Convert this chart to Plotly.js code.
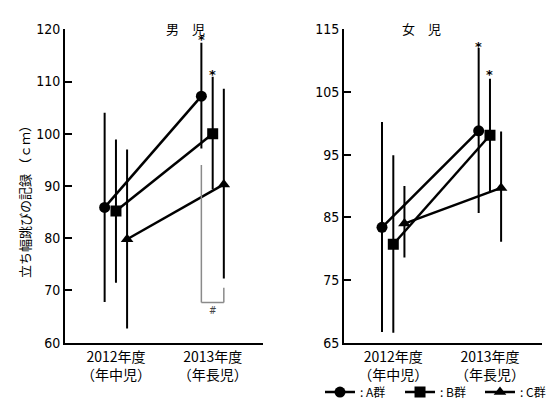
<!DOCTYPE html>
<html>
<head>
<meta charset="utf-8">
<script src="https://cdn.plot.ly/plotly-3.0.1.min.js"></script>
<style>html,body{margin:0;padding:0;background:#fff}#chart{width:547px;height:399px}</style>
</head>
<body>
<div id="chart"></div>
<script>
// categories (x positions 0 = 2012, 1 = 2013)
const categoryX = [0, 1];
const categoryYears = ["2012年度", "2013年度"];
const categoryGrades = ["（年中児）", "（年長児）"];
const groups = [": A群", ": B群", ": C群"];
const groupOffsets = [-0.117, 0, 0.115];

// 男児 (boys) means and error extents
const boysA = [85.9, 107.2];
const boysB = [85.2, 100.0];
const boysC = [79.8, 90.3];
const boysAUp = [18.1, 10.2], boysALow = [18.1, 10.0];
const boysBUp = [13.7, 10.9], boysBLow = [13.7, 10.6];
const boysCUp = [17.2, 18.3], boysCLow = [17.1, 18.0];

// 女児 (girls) means and error extents
const girlsA = [83.4, 98.8];
const girlsB = [80.7, 98.1];
const girlsC = [84.0, 89.7];
const girlsAUp = [16.8, 13.2], girlsALow = [16.7, 13.1];
const girlsBUp = [14.2, 9.0], girlsBLow = [14.1, 8.9];
const girlsCUp = [6.0, 9.0], girlsCLow = [5.4, 8.6];

// significance marks
const boysStars = [118.6, 112.0];   // above A, B at 2013
const girlsStars = [112.8, 108.3];
const boysBracket = {top: 94.0, bottom: 67.7, rightTop: 70.5, label: 66.2};

const symbols = ["circle", "square", "triangle-up"];
const legendIds = ["legend", "legend2", "legend3"];
const fontNum = "Liberation Sans Narrow, DejaVu Sans Condensed, Noto Sans CJK JP, sans-serif";
const fontJP = "Liberation Sans Narrow, Noto Sans CJK JP, sans-serif";
const fontStar = "DejaVu Sans, sans-serif";

function mk(vals, up, low, g, xa, ya, showleg) {
  return {
    x: categoryX.map(v => v + groupOffsets[g]),
    y: vals,
    xaxis: xa, yaxis: ya,
    type: "scatter", mode: "lines+markers",
    name: groups[g], showlegend: showleg, legend: legendIds[g],
    line: {color: "#000", width: 2.5},
    marker: {symbol: symbols[g], size: 11, color: "#000"},
    error_y: {type: "data", symmetric: false, array: up, arrayminus: low, width: 0, thickness: 2, color: "#000"}
  };
}

const data = [
  mk(boysA, boysAUp, boysALow, 0, "x", "y", true),
  mk(boysB, boysBUp, boysBLow, 1, "x", "y", true),
  mk(boysC, boysCUp, boysCLow, 2, "x", "y", true),
  mk(girlsA, girlsAUp, girlsALow, 0, "x2", "y2", false),
  mk(girlsB, girlsBUp, girlsBLow, 1, "x2", "y2", false),
  mk(girlsC, girlsCUp, girlsCLow, 2, "x2", "y2", false)
];

const xCommon = {
  tickvals: categoryX, ticktext: categoryYears.map((t, i) => t + "<br>" + categoryGrades[i]),
  showline: true, linewidth: 2, linecolor: "#000",
  ticks: "", showgrid: false, zeroline: false, fixedrange: true,
  tickfont: {family: fontJP, size: 14, color: "#000"},
  automargin: false
};
const yCommon = {
  showline: true, linewidth: 2, linecolor: "#000",
  ticks: "inside", ticklen: 7, tickwidth: 2, tickcolor: "#000",
  showgrid: false, zeroline: false, fixedrange: true,
  tickfont: {family: fontNum, size: 14, color: "#000"},
  automargin: false
};

function leg(x) {
  return {
    orientation: "h", x: x, xanchor: "left", y: 0.0175, yanchor: "middle",
    font: {family: fontJP, size: 12, color: "#000"},
    bgcolor: "rgba(0,0,0,0)", borderwidth: 0, itemclick: false
  };
}

const bx = 1 + groupOffsets[0], bx2 = 1 + groupOffsets[2];
const gray = "#8a8a8a";
const leftRange = [-0.527, 1.52], rightRange = [-0.51, 1.535];
const leftDom = [0.1188, 0.4808], rightDom = [0.6289, 0.9903];

function star(xr, yr, x, y) {
  return {text: "<b>*</b>", xref: xr, yref: yr, x: x, y: y, yshift: -3, showarrow: false,
    font: {family: fontStar, size: 13, color: "#000"}};
}

const annotations = [
  {text: "立ち幅跳びの記録 （ｃｍ）", textangle: -90, xref: "paper", yref: "paper", x: 0.0247, y: 0.5013, showarrow: false, font: {family: fontJP, size: 13, color: "#000"}},
  {text: "男　児", xref: "paper", yref: "paper", x: 0.2998, y: 0.957, showarrow: false, font: {family: fontJP, size: 13, color: "#000"}},
  {text: "女　児", xref: "paper", yref: "paper", x: 0.8096, y: 0.957, showarrow: false, font: {family: fontJP, size: 13, color: "#000"}},
  star("x", "y", 1 + groupOffsets[0], boysStars[0]),
  star("x", "y", 1 + groupOffsets[1], boysStars[1]),
  star("x2", "y2", 1 + groupOffsets[0], girlsStars[0]),
  star("x2", "y2", 1 + groupOffsets[1], girlsStars[1]),
  {text: "#", xref: "x", yref: "y", x: 1 + groupOffsets[1], y: boysBracket.label, showarrow: false, font: {family: fontNum, size: 10, color: "#444"}}
];

const layout = {
  width: 547, height: 399,
  margin: {l: 0, r: 0, t: 0, b: 0, autoexpand: false},
  paper_bgcolor: "#fff", plot_bgcolor: "#fff",
  showlegend: true,
  legend: leg(0.585),
  legend2: leg(0.7313),
  legend3: leg(0.8775),
  xaxis: Object.assign({}, xCommon, {domain: leftDom, range: leftRange, anchor: "y"}),
  yaxis: Object.assign({}, yCommon, {domain: [0.1411, 0.9266], range: [60, 120], dtick: 10, tick0: 60, anchor: "x"}),
  xaxis2: Object.assign({}, xCommon, {domain: rightDom, range: rightRange, anchor: "y2"}),
  yaxis2: Object.assign({}, yCommon, {domain: [0.1411, 0.9266], range: [65, 115], dtick: 10, tick0: 65, anchor: "x2"}),
  shapes: [
    {type: "line", xref: "x", yref: "y", x0: bx, x1: bx, y0: boysBracket.top, y1: boysBracket.bottom, line: {color: gray, width: 1.5}},
    {type: "line", xref: "x", yref: "y", x0: bx, x1: bx2, y0: boysBracket.bottom, y1: boysBracket.bottom, line: {color: gray, width: 1.5}},
    {type: "line", xref: "x", yref: "y", x0: bx2, x1: bx2, y0: boysBracket.bottom, y1: boysBracket.rightTop, line: {color: gray, width: 1.5}}
  ],
  annotations: annotations
};

Plotly.newPlot("chart", data, layout, {displayModeBar: false, staticPlot: true});
</script>
</body>
</html>
